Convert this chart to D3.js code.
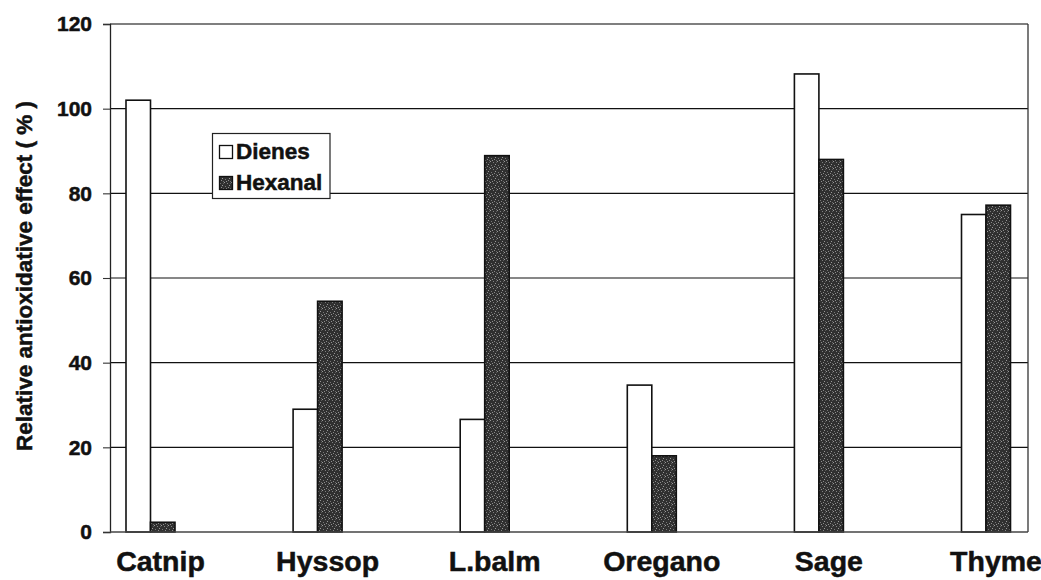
<!DOCTYPE html>
<html>
<head>
<meta charset="utf-8">
<script src="https://cdn.jsdelivr.net/npm/d3@7"></script>
<style>
  html, body { margin: 0; padding: 0; background: #fff; }
  svg { display: block; font-family: "Liberation Sans", Arial, sans-serif; font-weight: bold; }
  svg text { stroke: #111; stroke-width: 0.5px; }
</style>
</head>
<body>
<svg id="chart" width="1041" height="580"></svg>
<script>
const categories = ["Catnip", "Hyssop", "L.balm", "Oregano", "Sage", "Thyme"];
const seriesNames = ["Dienes", "Hexanal"];
const dienes = [102, 29, 26.6, 34.7, 108.2, 75];
const hexanal = [2.3, 54.5, 88.9, 18, 88, 77.2];
const yTicks = [0, 20, 40, 60, 80, 100, 120];
const yTitle = "Relative antioxidative effect ( % )";

const svg = d3.select("#chart");
const plot = { left: 110, right: 1028, top: 24, bottom: 532 };

// speckled fill for the dark series
const defs = svg.append("defs");
const pat = defs.append("pattern").attr("id", "speck").attr("patternUnits", "userSpaceOnUse")
  .attr("width", 7).attr("height", 7);
pat.append("rect").attr("width", 7).attr("height", 7).attr("fill", "#303030");
const speckles = [[0,0,"#9a9a9a"],[3,1,"#808080"],[5,3,"#999"],[1,4,"#777"],[4,5,"#8a8a8a"],[6,6,"#6a6a6a"],[2,6,"#909090"],[6,1,"#5c5c5c"]];
pat.selectAll("rect.s").data(speckles).join("rect").attr("class", "s")
  .attr("x", d => d[0]).attr("y", d => d[1]).attr("width", 1).attr("height", 1).attr("fill", d => d[2]);

const y = d3.scaleLinear().domain([0, 120]).range([plot.bottom, plot.top]);
const x = d3.scalePoint().domain(categories).range([150.5, 986]);
const barW = 24.5;

// gridlines
svg.append("g").selectAll("line").data(yTicks.filter(t => t > 0 && t < 120)).join("line")
  .attr("x1", plot.left).attr("x2", plot.right)
  .attr("y1", d => y(d)).attr("y2", d => y(d))
  .attr("stroke", "#111").attr("stroke-width", 1.1);

// plot frame
svg.append("line").attr("x1", plot.left).attr("x2", plot.right).attr("y1", y(120)).attr("y2", y(120))
  .attr("stroke", "#555").attr("stroke-width", 1.3);
svg.append("line").attr("x1", plot.right).attr("x2", plot.right).attr("y1", plot.top).attr("y2", plot.bottom)
  .attr("stroke", "#333").attr("stroke-width", 1.3);

// y axis
const yAxis = d3.axisLeft(y).tickValues(yTicks).tickSize(7).tickPadding(11).tickFormat(d3.format("d"));
const gy = svg.append("g").attr("transform", `translate(${plot.left},0)`).call(yAxis);
gy.select(".domain").attr("stroke", "#222").attr("stroke-width", 1.3);
gy.selectAll(".tick line").attr("stroke", "#333").attr("stroke-width", 1.1);
gy.selectAll(".tick text").attr("font-size", 21).attr("font-weight", "bold")
  .attr("font-family", "Liberation Sans, Arial, sans-serif").attr("fill", "#111");

// bars
const rows = categories.map((c, i) => ({ c, vals: [dienes[i], hexanal[i]] }));
const g = svg.append("g");
rows.forEach(r => {
  r.vals.forEach((v, j) => {
    g.append("rect")
      .attr("x", x(r.c) - barW + j * barW)
      .attr("y", y(v))
      .attr("width", barW)
      .attr("height", y(0) - y(v))
      .attr("fill", j === 0 ? "#fff" : "url(#speck)")
      .attr("stroke", "#111").attr("stroke-width", 1.6);
  });
});

// baseline
svg.append("line").attr("x1", plot.left).attr("x2", plot.right).attr("y1", y(0)).attr("y2", y(0))
  .attr("stroke", "#444").attr("stroke-width", 1.3);

// x labels
svg.append("g").selectAll("text").data(categories).join("text")
  .attr("x", d => x(d) + 10).attr("y", 571)
  .attr("text-anchor", "middle").attr("font-size", 28.5).attr("fill", "#111")
  .text(d => d);

// y title
svg.append("text").attr("transform", `translate(32,276) rotate(-90)`)
  .attr("text-anchor", "middle").attr("font-size", 22.5).attr("fill", "#111")
  .text(yTitle);

// legend
const lg = svg.append("g");
lg.append("rect").attr("x", 212.5).attr("y", 133.5).attr("width", 117.5).attr("height", 65)
  .attr("fill", "#fff").attr("stroke", "#222").attr("stroke-width", 1.2);
seriesNames.forEach((s, i) => {
  lg.append("rect").attr("x", 219.5).attr("y", 145.5 + i * 31).attr("width", 13).attr("height", 13)
    .attr("fill", i === 0 ? "#fff" : "url(#speck)").attr("stroke", "#111").attr("stroke-width", 1.3);
  lg.append("text").attr("x", 236).attr("y", 159 + i * 31).attr("font-size", 22.5).attr("fill", "#111").text(s);
});
</script>
</body>
</html>
